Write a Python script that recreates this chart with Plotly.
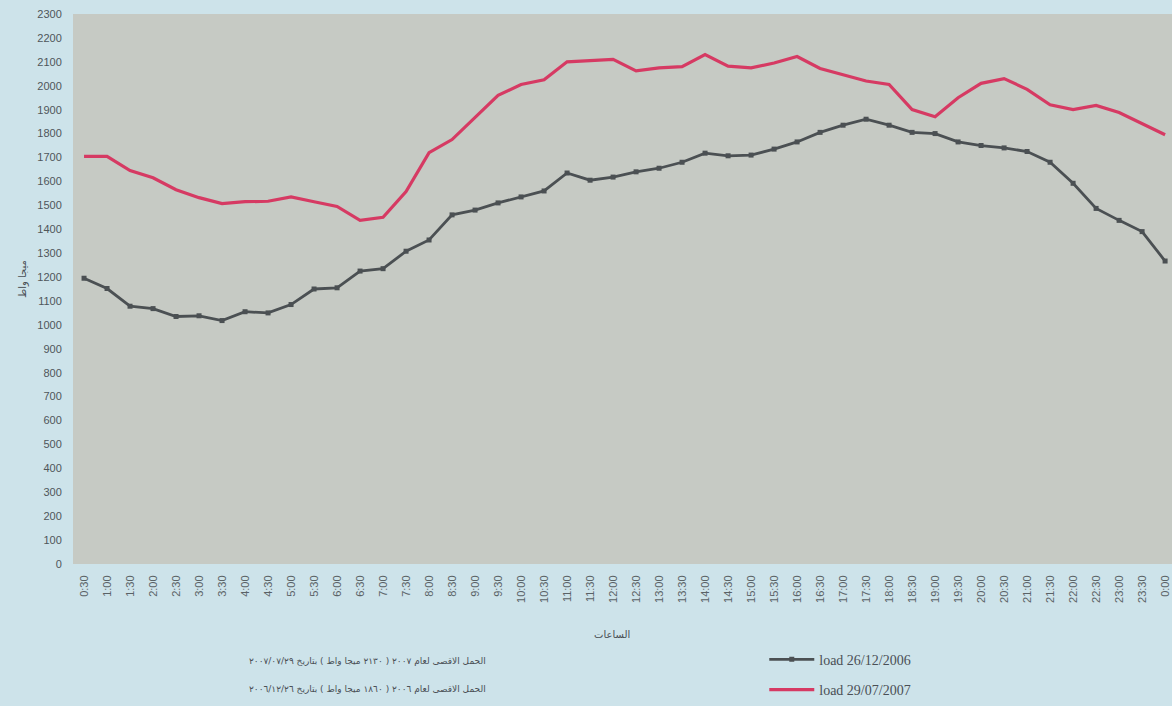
import plotly.graph_objects as go

hours = ["0:30","1:00","1:30","2:00","2:30","3:00","3:30","4:00","4:30","5:00","5:30","6:00",
         "6:30","7:00","7:30","8:00","8:30","9:00","9:30","10:00","10:30","11:00","11:30","12:00",
         "12:30","13:00","13:30","14:00","14:30","15:00","15:30","16:00","16:30","17:00","17:30","18:00",
         "18:30","19:00","19:30","20:00","20:30","21:00","21:30","22:00","22:30","23:00","23:30","0:00"]

load_2006 = [1195,1152,1078,1068,1035,1038,1018,1055,1050,1085,1150,1155,
             1225,1235,1308,1355,1460,1480,1510,1535,1560,1635,1605,1618,
             1640,1655,1680,1718,1707,1710,1735,1765,1805,1835,1860,1835,
             1805,1800,1765,1750,1740,1725,1680,1592,1487,1437,1390,1267]

load_2007 = [1705,1705,1645,1615,1565,1532,1507,1515,1517,1535,1515,1495,
             1437,1450,1557,1720,1775,1868,1960,2005,2025,2100,2105,2110,
             2062,2075,2080,2130,2082,2075,2095,2122,2072,2045,2020,2005,
             1900,1870,1950,2010,2030,1985,1920,1900,1918,1888,1840,1795]

name_2006 = "load 26/12/2006"
name_2007 = "load 29/07/2007"
y_ticks = list(range(0, 2301, 100))

note_2007 = "الحمل الاقصى لعام ٢٠٠٧ ( ٢١٣٠ ميجا واط ) بتاريخ ٢٠٠٧/٠٧/٢٩"
note_2006 = "الحمل الاقصى لعام ٢٠٠٦ ( ١٨٦٠ ميجا واط ) بتاريخ ٢٠٠٦/١٢/٢٦"
x_title = "الساعات"
y_title = "ميجا واط"

fig = go.Figure()
fig.add_trace(go.Scatter(
    x=hours, y=load_2006, name=name_2006, mode="lines+markers", legendgroup="a",
    line=dict(color="#4b5053", width=2.8),
    marker=dict(symbol="square", size=5, color="#4b5053"),
))
fig.add_trace(go.Scatter(
    x=hours, y=load_2007, name=name_2007, mode="lines", legendgroup="b",
    line=dict(color="#d63a63", width=3.2),
))

fig.update_layout(
    width=1172, height=706,
    margin=dict(l=73, r=0, t=14, b=139),
    paper_bgcolor="#cde3ea",
    plot_bgcolor="#c6cac4",
    showlegend=True,
    legend=dict(
        x=0.629, y=-0.145, xanchor="left", yanchor="top",
        bgcolor="rgba(0,0,0,0)", tracegroupgap=9, itemwidth=45,
        font=dict(family="Liberation Serif", size=14, color="#4a4f55"),
        traceorder="grouped",
    ),
    xaxis=dict(
        type="category", range=[-0.48, 47.3], showgrid=False, zeroline=False,
        tickangle=-90, tickfont=dict(family="Liberation Sans", size=11, color="#5a6266"),
        ticks="outside", ticklen=6, tickcolor="rgba(0,0,0,0)",
    ),
    yaxis=dict(
        range=[0, 2300], tickvals=y_ticks, showgrid=False, zeroline=False,
        tickfont=dict(family="Liberation Sans", size=11, color="#4f565a"),
        ticks="outside", ticklen=8, tickcolor="rgba(0,0,0,0)",
    ),
    annotations=[
        dict(text=note_2007, xref="paper", yref="paper", x=0.378, y=-0.177,
             xanchor="right", yanchor="middle", showarrow=False,
             font=dict(family="DejaVu Sans", size=9, color="#4a4f55")),
        dict(text=note_2006, xref="paper", yref="paper", x=0.378, y=-0.227,
             xanchor="right", yanchor="middle", showarrow=False,
             font=dict(family="DejaVu Sans", size=9, color="#4a4f55")),
        dict(text=x_title, xref="paper", yref="paper", x=0.49, y=-0.128,
             xanchor="center", yanchor="middle", showarrow=False,
             font=dict(family="DejaVu Sans", size=10, color="#4a4f55")),
        dict(text=y_title, xref="paper", yref="paper", x=-0.046, y=0.519,
             xanchor="center", yanchor="middle", showarrow=False, textangle=-90,
             font=dict(family="DejaVu Sans", size=10, color="#4a4f55")),
    ],
)

fig.write_html("out.html", config={"displayModeBar": False},
               post_script="document.body.style.margin='0';document.body.style.overflow='hidden';")
